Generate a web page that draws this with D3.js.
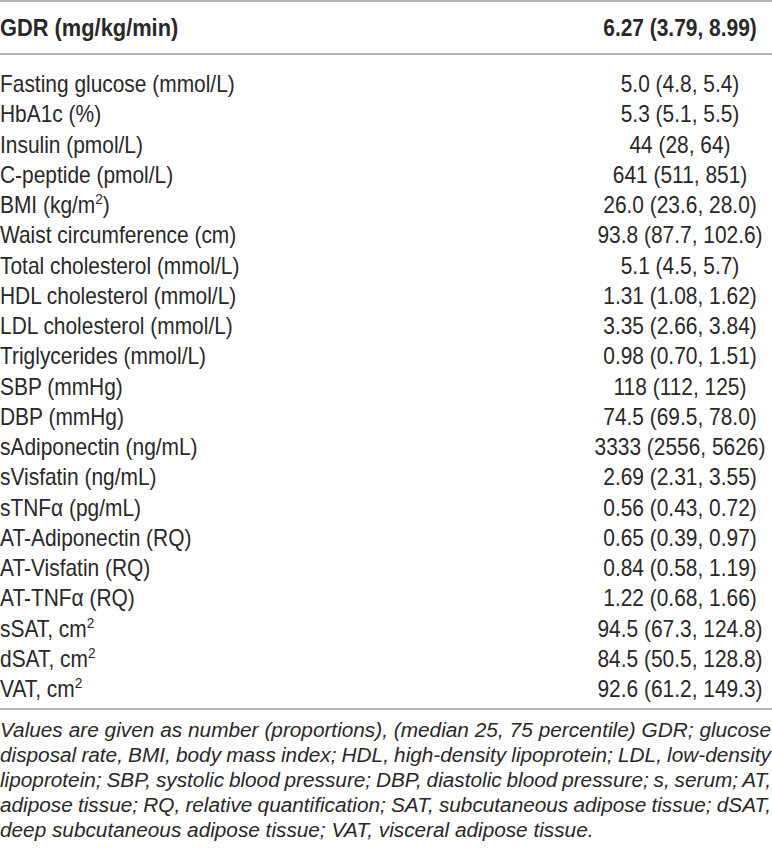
<!DOCTYPE html>
<html>
<head>
<meta charset="utf-8">
<script src="https://cdn.jsdelivr.net/npm/d3@7"></script>
<style>
  body { margin: 0; background: #fff; }
  text { font-family: "Liberation Sans", Arial, Helvetica, sans-serif; fill: #2a2728; }
</style>
</head>
<body>
<script>
// header row
var headerLabel = "GDR (mg/kg/min)";
var headerValue = ["6.27", "3.79", "8.99"];

// row labels ("^" marks a superscript)
var labels = [
    "Fasting glucose (mmol/L)", "HbA1c (%)", "Insulin (pmol/L)", "C-peptide (pmol/L)",
    "BMI (kg/m^2)", "Waist circumference (cm)", "Total cholesterol (mmol/L)",
    "HDL cholesterol (mmol/L)", "LDL cholesterol (mmol/L)", "Triglycerides (mmol/L)",
    "SBP (mmHg)", "DBP (mmHg)", "sAdiponectin (ng/mL)", "sVisfatin (ng/mL)",
    "sTNF\u03b1 (pg/mL)", "AT-Adiponectin (RQ)", "AT-Visfatin (RQ)", "AT-TNF\u03b1 (RQ)",
    "sSAT, cm^2", "dSAT, cm^2", "VAT, cm^2"
];
// median, 25th and 75th percentile (kept as printed)
var medians = ["5.0", "5.3", "44", "641", "26.0", "93.8", "5.1", "1.31", "3.35", "0.98",
    "118", "74.5", "3333", "2.69", "0.56", "0.65", "0.84", "1.22", "94.5", "84.5", "92.6"];
var q25 = ["4.8", "5.1", "28", "511", "23.6", "87.7", "4.5", "1.08", "2.66", "0.70",
    "112", "69.5", "2556", "2.31", "0.43", "0.39", "0.58", "0.68", "67.3", "50.5", "61.2"];
var q75 = ["5.4", "5.5", "64", "851", "28.0", "102.6", "5.7", "1.62", "3.84", "1.51",
    "125", "78.0", "5626", "3.55", "0.72", "0.97", "1.19", "1.66", "124.8", "128.8", "149.3"];

// footnote, one entry per printed line
var noteLines = [
    "Values are given as number (proportions), (median 25, 75 percentile) GDR; glucose",
    "disposal rate, BMI, body mass index; HDL, high-density lipoprotein; LDL, low-density",
    "lipoprotein; SBP, systolic blood pressure; DBP, diastolic blood pressure; s, serum; AT,",
    "adipose tissue; RQ, relative quantification; SAT, subcutaneous adipose tissue; dSAT,",
    "deep subcutaneous adipose tissue; VAT, visceral adipose tissue."
];

function drawTable() {
    var width = 772, height = 857;
    var sx = 0.91;      // glyphs in the source are narrow and tall
    var noteSx = 0.99;

    var svg = d3.select("body").append("svg")
        .attr("width", width)
        .attr("height", height);

    var rows = labels.map(function(d, i) {
        return { label: d, value: medians[i] + " (" + q25[i] + ", " + q75[i] + ")" };
    });

    // row baselines
    var y = d3.scalePoint()
        .domain(d3.range(rows.length))
        .range([92, 697]);

    var valueX = 680;
    var rule = "#9a9a9a";

    // rules
    [1, 54, 709].forEach(function(yy) {
        svg.append("line")
            .attr("x1", 0).attr("x2", width)
            .attr("y1", yy).attr("y2", yy)
            .attr("stroke", rule)
            .attr("stroke-width", 1.6);
    });

    // header
    svg.append("text")
        .attr("transform", "translate(0,36) scale(" + sx + ",1)")
        .attr("font-size", 24)
        .attr("font-weight", "bold")
        .text(headerLabel);
    svg.append("text")
        .attr("transform", "translate(" + valueX + ",36) scale(" + sx + ",1)")
        .attr("font-size", 23)
        .attr("font-weight", "bold")
        .attr("text-anchor", "middle")
        .text(headerValue[0] + " (" + headerValue[1] + ", " + headerValue[2] + ")");

    var row = svg.selectAll("g.row")
        .data(rows)
        .enter().append("g")
        .attr("class", "row")
        .attr("transform", function(d, i) { return "translate(0," + y(i) + ")"; });

    // labels, with superscript after "^"
    var lab = row.append("text")
        .attr("transform", "scale(" + sx + ",1)")
        .attr("font-size", 23);
    lab.each(function(d) {
        var t = d3.select(this);
        var parts = d.label.split("^");
        t.append("tspan").text(parts[0]);
        if (parts.length > 1) {
            t.append("tspan")
                .attr("dy", -9)
                .attr("font-size", 15)
                .text(parts[1].charAt(0));
            var rest = parts[1].slice(1);
            if (rest) {
                t.append("tspan").attr("dy", 9).text(rest);
            }
        }
    });

    row.append("text")
        .attr("transform", "translate(" + valueX + ",0) scale(" + sx + ",1)")
        .attr("text-anchor", "middle")
        .attr("font-size", 23)
        .text(function(d) { return d.value; });

    // footnote, justified by word spacing except the last line
    var noteY = d3.scalePoint()
        .domain(d3.range(noteLines.length))
        .range([737, 837]);

    svg.selectAll("text.note")
        .data(noteLines)
        .enter().append("text")
        .attr("class", "note")
        .attr("transform", function(d, i) {
            return "translate(0," + noteY(i) + ") scale(" + noteSx + ",1)";
        })
        .attr("font-size", 21)
        .attr("font-style", "italic")
        .text(function(d) { return d; })
        .each(function(d, i) {
            if (i == noteLines.length - 1) return;
            var w = this.getComputedTextLength();
            var gaps = d.split(" ").length - 1;
            var target = (width - 1) / noteSx;
            d3.select(this).attr("word-spacing", (target - w) / gaps);
        });
}

drawTable();
</script>
</body>
</html>
